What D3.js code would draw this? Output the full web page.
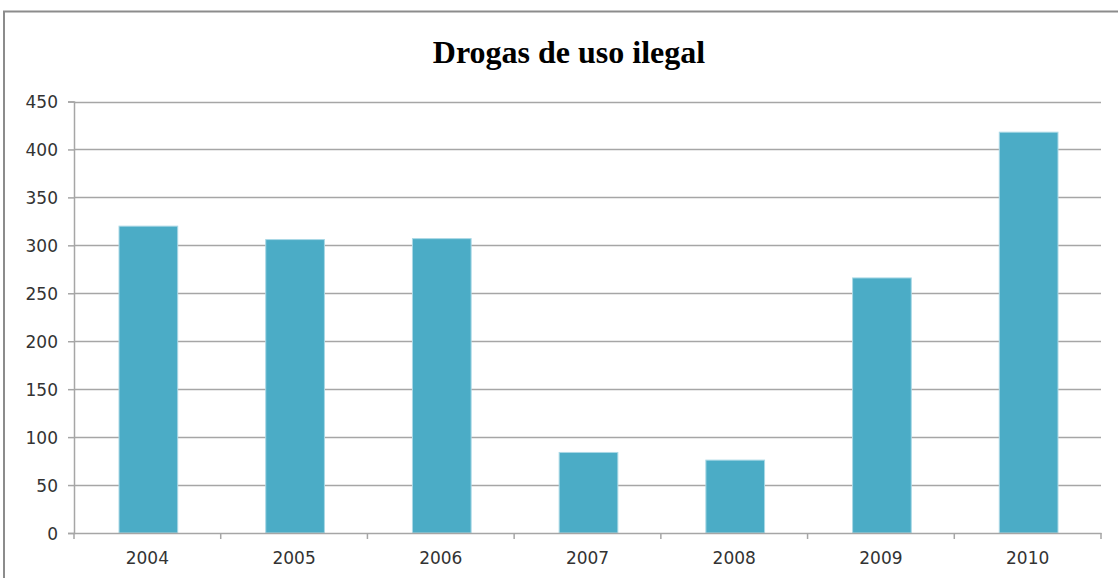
<!DOCTYPE html>
<html>
<head>
<meta charset="utf-8">
<script src="https://cdn.jsdelivr.net/npm/d3@7"></script>
<style>
  html, body { margin: 0; padding: 0; background: #fff; }
  svg { display: block; }
</style>
</head>
<body>
<svg id="chart" width="1118" height="578"></svg>
<script>
const categories = ["2004", "2005", "2006", "2007", "2008", "2009", "2010"];
const values = [320, 306, 307, 84, 76, 266, 418];
const yTicks = [0, 50, 100, 150, 200, 250, 300, 350, 400, 450];
const title = "Drogas de uso ilegal";

const svg = d3.select("#chart");
const W = 1118, H = 578;
const m = { left: 74, right: 1101, top: 101.5, bottom: 533 };

// frame
svg.append("rect")
  .attr("x", 4).attr("y", 11.5)
  .attr("width", W + 20).attr("height", H + 20)
  .attr("fill", "none").attr("stroke", "#8c8c8c").attr("stroke-width", 2);

// title
svg.append("text")
  .attr("x", 569).attr("y", 63)
  .attr("text-anchor", "middle")
  .attr("font-family", "'Liberation Serif', 'Times New Roman', serif")
  .attr("font-weight", "bold")
  .attr("font-size", 32)
  .attr("fill", "#000")
  .text(title);

const x = d3.scaleBand().domain(categories).range([m.left, m.right])
  .paddingInner(0.6).paddingOuter(0.3);
const xEdges = d3.scaleBand().domain(categories).range([m.left, m.right]).padding(0);
const y = d3.scaleLinear().domain([0, 450]).range([m.bottom, m.top]);

// gridlines
svg.append("g").selectAll("line").data(yTicks.filter(d => d > 0)).join("line")
  .attr("x1", m.left).attr("x2", m.right)
  .attr("y1", d => Math.round(y(d)) + 0.5).attr("y2", d => Math.round(y(d)) + 0.5)
  .attr("stroke", "#a6a6a6").attr("stroke-width", 1.5);

// bars
svg.append("g").selectAll("rect").data(categories).join("rect")
  .attr("x", d => x(d) + 1)
  .attr("y", (d, i) => y(values[i]))
  .attr("width", x.bandwidth())
  .attr("height", (d, i) => y(0) - y(values[i]))
  .attr("fill", "#4bacc6")
  .attr("stroke", "#a9d8e5").attr("stroke-width", 1);

// y axis
const yAxis = d3.axisLeft(y).tickValues(yTicks).tickSize(6).tickPadding(10).tickFormat(d3.format("d"));
const gy = svg.append("g").attr("transform", `translate(${m.left},0)`).call(yAxis);
gy.select(".domain").attr("stroke", "#a6a6a6").attr("stroke-width", 1.5);
gy.selectAll(".tick line").attr("stroke", "#a6a6a6").attr("stroke-width", 1.5);
gy.selectAll(".tick text")
  .attr("font-family", "'DejaVu Sans', Verdana, sans-serif")
  .attr("font-size", 17).attr("fill", "#333").attr("dy", "0.36em");

// x axis
const xAxis = d3.axisBottom(xEdges).tickSize(0).tickPadding(19);
const gx = svg.append("g").attr("transform", `translate(0,${m.bottom})`).call(xAxis);
gx.select(".domain").attr("stroke", "#a6a6a6").attr("stroke-width", 1.5);
gx.selectAll(".tick text")
  .attr("font-family", "'DejaVu Sans', Verdana, sans-serif")
  .attr("font-size", 17).attr("fill", "#333");
// boundary tick marks
const edges = categories.map(c => xEdges(c)).concat([m.right]);
gx.append("g").selectAll("line").data(edges).join("line")
  .attr("x1", d => d).attr("x2", d => d)
  .attr("y1", 0).attr("y2", 6)
  .attr("stroke", "#a6a6a6").attr("stroke-width", 1.5);
</script>
</body>
</html>
